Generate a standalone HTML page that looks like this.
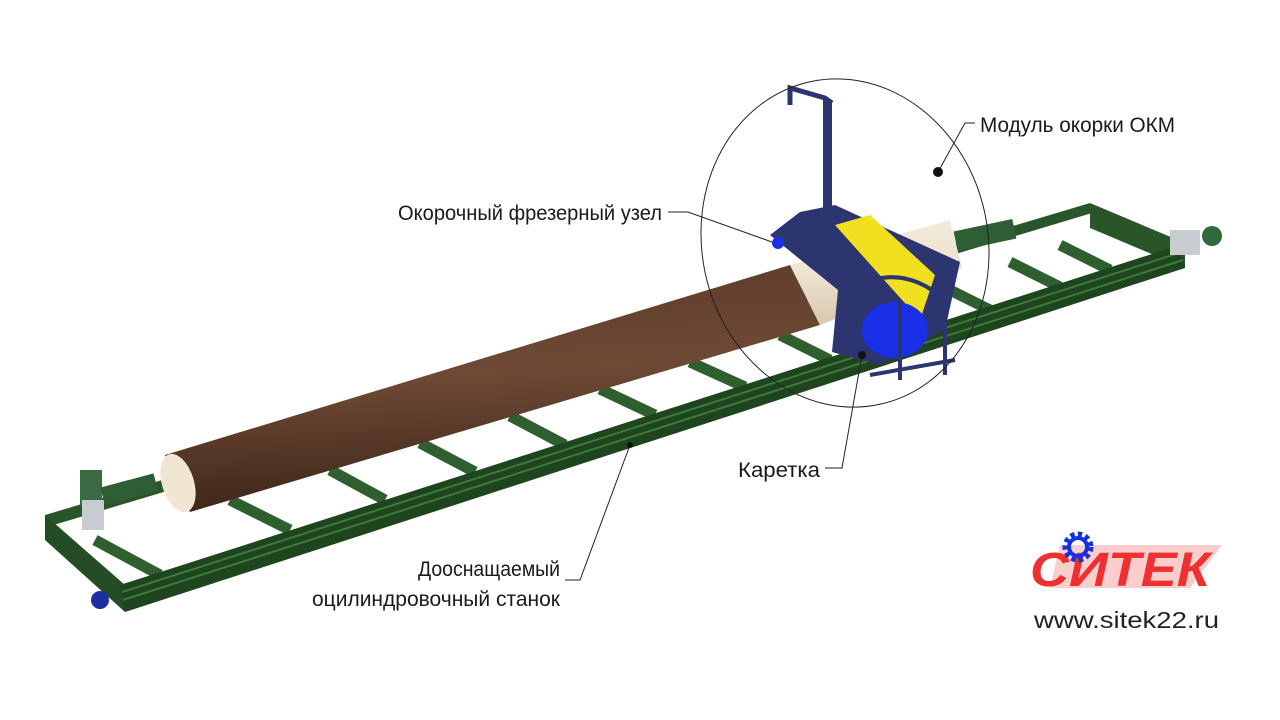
<!DOCTYPE html>
<html><head><meta charset="utf-8"><style>
html,body{margin:0;padding:0;background:#fff;}
svg{display:block;}
.l{font-family:"Liberation Sans Narrow","Liberation Sans",sans-serif;font-size:21px;fill:#1a1a1a;}
</style></head><body>
<svg width="1280" height="720" viewBox="0 0 1280 720" xmlns="http://www.w3.org/2000/svg">
<defs>
<linearGradient id="log" x1="0" y1="0" x2="0.15" y2="1">
<stop offset="0" stop-color="#5a3a28"/><stop offset="0.5" stop-color="#6e4a35"/><stop offset="1" stop-color="#3e2619"/>
</linearGradient>
<linearGradient id="wood" x1="0" y1="0" x2="0.15" y2="1">
<stop offset="0" stop-color="#f4ece0"/><stop offset="0.5" stop-color="#efe3d0"/><stop offset="1" stop-color="#d8c8b0"/>
</linearGradient>
</defs>
<g stroke="#2f5e2f" stroke-width="11">
<line x1="95" y1="540" x2="160" y2="575"/>
<line x1="230" y1="500" x2="290" y2="530"/>
<line x1="330" y1="470" x2="385" y2="500"/>
<line x1="420" y1="443" x2="475" y2="472"/>
<line x1="510" y1="416" x2="565" y2="445"/>
<line x1="600" y1="389" x2="655" y2="415"/>
<line x1="690" y1="362" x2="745" y2="387"/>
<line x1="780" y1="335" x2="830" y2="360"/>
<line x1="940" y1="285" x2="990" y2="310"/>
<line x1="1010" y1="262" x2="1060" y2="287"/>
<line x1="1060" y1="245" x2="1110" y2="270"/>
</g>
<polygon points="45,515 1090,203 1092,213 47,527" fill="#2a552a"/>
<polygon points="45,515 125,585 125,612 45,540" fill="#254d25"/>
<polygon points="1090,203 1185,243 1185,268 1090,228" fill="#2a552a"/>
<polygon points="120,585 1180,245 1185,268 125,612" fill="#1f451f"/>
<g stroke="#3d7a3d" stroke-width="2">
<line x1="122" y1="592" x2="1182" y2="252"/>
<line x1="123" y1="600" x2="1183" y2="260"/>
</g>
<rect x="80" y="470" width="22" height="35" fill="#3b6b45"/>
<rect x="82" y="500" width="22" height="30" fill="#c8ccd0"/>
<rect x="102" y="480" width="55" height="18" fill="#2f5e35" transform="rotate(-15 130 490)"/>
<circle cx="100" cy="600" r="9" fill="#1f2fa0"/>
<rect x="1170" y="230" width="30" height="25" fill="#c8ccd0"/>
<circle cx="1212" cy="236" r="10" fill="#2f6a3a"/>
<rect x="955" y="225" width="60" height="20" fill="#2f5e35" transform="rotate(-12 985 235)"/>
<polygon points="165,455 790,265 820,325 190,512" fill="url(#log)"/>
<ellipse cx="178" cy="483" rx="16" ry="30" fill="#f1e6d2" transform="rotate(-17 178 483)"/>
<polygon points="790,265 950,220 962,268 820,325" fill="url(#wood)"/>
<!-- carriage -->
<polygon points="770,235 800,212 835,205 960,262 945,330 880,365 832,352 838,290" fill="#2c3570"/>
<polygon points="835,225 870,215 935,275 920,320" fill="#f0e020"/>
<ellipse cx="895" cy="330" rx="33" ry="28" fill="#1a2fe8"/>
<rect x="823" y="100" width="9" height="120" fill="#2c3570"/>
<polyline points="832,103 825,98 790,88 790,105" fill="none" stroke="#2c3570" stroke-width="5"/>
<g stroke="#2c3570" stroke-width="4" fill="none">
<path d="M850,290 Q900,260 945,300 L945,375"/>
<line x1="870" y1="375" x2="955" y2="360"/>
<line x1="900" y1="300" x2="900" y2="380"/>
</g>
<circle cx="778" cy="243" r="6" fill="#1a2fe8"/>
<ellipse cx="845" cy="243" rx="143" ry="165" fill="none" stroke="#222" stroke-width="1" transform="rotate(-12 845 243)"/>
<g stroke="#222" stroke-width="1" fill="none">
<polyline points="938,172 965,123 975,123"/>
<polyline points="668,212 688,212 772,242"/>
<polyline points="825,468 842,468 862,355"/>
<polyline points="565,580 580,580 630,445"/>
</g>
<circle cx="938" cy="172" r="5" fill="#111"/>
<circle cx="630" cy="445" r="3" fill="#111"/>
<circle cx="862" cy="355" r="4" fill="#111"/>
<text class="l" x="980" y="132" textLength="195" lengthAdjust="spacingAndGlyphs">Модуль окорки ОКМ</text>
<text class="l" x="398" y="220" textLength="264" lengthAdjust="spacingAndGlyphs">Окорочный фрезерный узел</text>
<text class="l" x="738" y="477" textLength="82" lengthAdjust="spacingAndGlyphs">Каретка</text>
<text class="l" x="418" y="576" textLength="142" lengthAdjust="spacingAndGlyphs">Дооснащаемый</text>
<text class="l" x="312" y="606" textLength="248" lengthAdjust="spacingAndGlyphs">оцилиндровочный станок</text>
<polygon points="1060,545 1222,545 1190,588 1050,588" fill="#f03a3a" opacity="0.25"/>
<text x="1030" y="586" font-family="Liberation Sans,sans-serif" font-weight="bold" font-style="italic" font-size="48" fill="#ee3030" textLength="180" lengthAdjust="spacingAndGlyphs">СИТЕК</text>
<circle cx="1078" cy="547" r="12" fill="none" stroke="#1530e0" stroke-width="7" stroke-dasharray="4 3"/>
<circle cx="1078" cy="547" r="9" fill="none" stroke="#1530e0" stroke-width="4"/>
<text x="1034" y="628" font-family="Liberation Sans,sans-serif" font-size="23" fill="#222" textLength="185" lengthAdjust="spacingAndGlyphs">www.sitek22.ru</text>
</svg>
</body></html>
